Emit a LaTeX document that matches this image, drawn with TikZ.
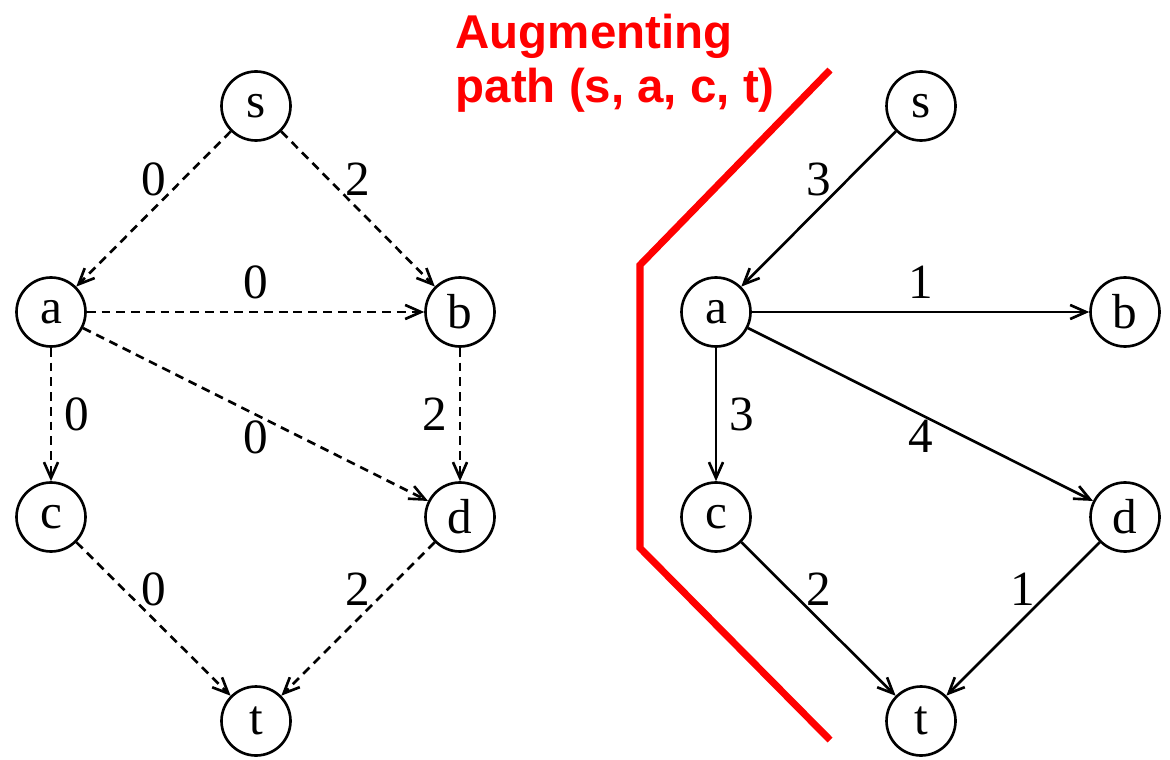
\documentclass[tikz,border=0pt]{standalone}
\usepackage{fontspec}
\setmainfont{Liberation Serif}
\newfontfamily\notefont{Liberation Sans}
\usetikzlibrary{arrows.meta}

\begin{document}
\begin{tikzpicture}[
      font=\fontsize{14}{16}\selectfont,
      vtx/.style={draw, circle, minimum size=0.69cm, inner sep=0pt,
                  line width=0.75pt},
      res/.style={->, line width=0.75pt},
      flw/.style={res, dash pattern=on 2.5pt off 1.7pt},
      note/.style={text=red, align=left, inner sep=0pt,
                   font=\notefont\bfseries\fontsize{13.5}{15.6}\selectfont},
      >={Straight Barb[length=4.5pt,width=4pt]}
    ]
    \useasboundingbox (0,0) rectangle (11.7,7.59);

    % vertices of both graphs
    \foreach \n/\x/\y in {s/2.56/6.53, a/0.51/4.47, b/4.60/4.47,
                          c/0.51/2.42, d/4.60/2.42, t/2.56/0.38} {
      \node[vtx] (l\n) at (\x,\y) {\n};
      \node[vtx] (r\n) at (\x+6.65,\y) {\n};
    }

    % flow (dashed)
    \draw[flw] (ls) -- node[above] {0} (la);
    \draw[flw] (ls) -- node[above] {2} (lb);
    \draw[flw] (la) -- node[above] {0} (lb);
    \draw[flw] (la) -- node[right] {0} (lc);
    \draw[flw] (la) -- node[below=-2pt] {0} (ld);
    \draw[flw] (lb) -- node[left] {2} (ld);
    \draw[flw] (lc) -- node[above] {0} (lt);
    \draw[flw] (ld) -- node[above] {2} (lt);

    % residual graph
    \draw[res] (rs) -- node[above] {3} (ra);
    \draw[res] (ra) -- node[above] {1} (rb);
    \draw[res] (ra) -- node[right] {3} (rc);
    \draw[res] (ra) -- node[below=-2pt] {4} (rd);
    \draw[res] (rc) -- node[above] {2} (rt);
    \draw[res] (rd) -- node[above] {1} (rt);

    % separator and caption
    \draw[red, line width=2pt] (8.30,6.89) -- (6.40,4.94) -- (6.40,2.11)
      -- (8.30,0.19);
    \node[note, anchor=north west] (cap) at (4.55,7.46)
      {Augmenting\\path (s, a, c, t)};
  \end{tikzpicture}
\end{document}
